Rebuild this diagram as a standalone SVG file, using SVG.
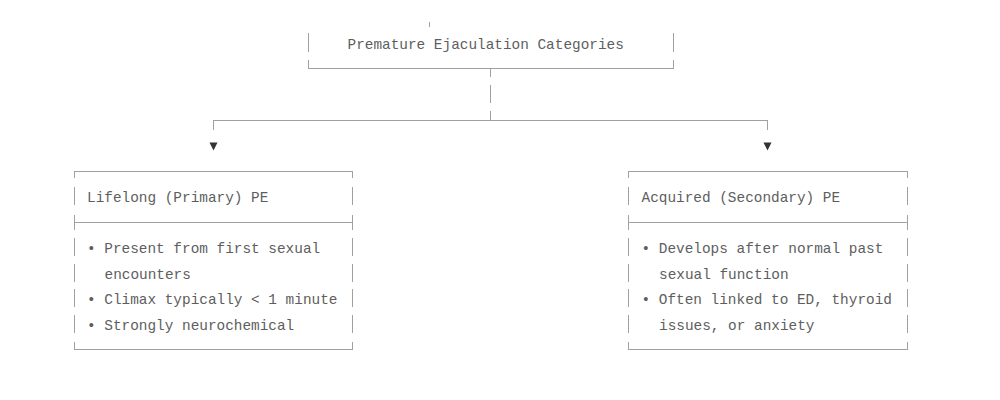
<svg xmlns="http://www.w3.org/2000/svg" width="1000" height="400" viewBox="0 0 1000 400">
  <style>
    .bg { fill: #ffffff; }
    .ln { stroke: #a0a0a0; stroke-width: 1; fill: none; shape-rendering: crispEdges; }
    .tx { font-family: "Liberation Mono", "DejaVu Sans Mono", monospace; font-size: 14.4px; fill: #5e5e5e; }
    .ar { fill: #333333; }
  </style>
  <rect class="bg" x="0" y="0" width="1000" height="400"/>

  <g id="node-top">
    <line class="ln" x1="429.5" y1="22" x2="429.5" y2="27"/>
    <line class="ln" x1="308.5" y1="33" x2="308.5" y2="52"/>
    <line class="ln" x1="673.5" y1="33" x2="673.5" y2="52"/>
    <path class="ln" d="M308.5 60 V68.5 H673.5 V60"/>
    <text class="tx" x="347.5" y="48.5">Premature Ejaculation Categories</text>
  </g>

  <g id="connectors">
    <line class="ln" x1="490.5" y1="68.5" x2="490.5" y2="77"/>
    <line class="ln" x1="490.5" y1="85" x2="490.5" y2="103"/>
    <line class="ln" x1="490.5" y1="111" x2="490.5" y2="121"/>
    <path class="ln" d="M213.5 129.5 V120.5 H767.5 V129.5"/>
    <path class="ar" d="M209.5 142.5 H217.5 L213.5 150.5 Z"/>
    <path class="ar" d="M763.5 142.5 H771.5 L767.5 150.5 Z"/>
  </g>

  <g id="node-lifelong">
    <path class="ln" d="M74.5 178 V171.5 H352.5 V178"/>
    <line class="ln" x1="74.5" y1="187" x2="74.5" y2="205"/>
    <line class="ln" x1="352.5" y1="187" x2="352.5" y2="205"/>
    <line class="ln" x1="74.5" y1="222.5" x2="352.5" y2="222.5"/>
    <line class="ln" x1="74.5" y1="215" x2="74.5" y2="230"/>
    <line class="ln" x1="352.5" y1="215" x2="352.5" y2="230"/>
    <line class="ln" x1="74.5" y1="238" x2="74.5" y2="256"/>
    <line class="ln" x1="352.5" y1="238" x2="352.5" y2="256"/>
    <line class="ln" x1="74.5" y1="264" x2="74.5" y2="282"/>
    <line class="ln" x1="352.5" y1="264" x2="352.5" y2="282"/>
    <line class="ln" x1="74.5" y1="289" x2="74.5" y2="307"/>
    <line class="ln" x1="352.5" y1="289" x2="352.5" y2="307"/>
    <line class="ln" x1="74.5" y1="315" x2="74.5" y2="333"/>
    <line class="ln" x1="352.5" y1="315" x2="352.5" y2="333"/>
    <path class="ln" d="M74.5 341.5 V349.5 H352.5 V341.5"/>
    <text class="tx" x="87" y="202">Lifelong (Primary) PE</text>
    <text class="tx" x="87" y="253">• Present from first sexual</text>
    <text class="tx" x="104.5" y="278.5">encounters</text>
    <text class="tx" x="87" y="304">• Climax typically &lt; 1 minute</text>
    <text class="tx" x="87" y="329.5">• Strongly neurochemical</text>
  </g>

  <g id="node-acquired">
    <path class="ln" d="M628.5 178 V171.5 H907.5 V178"/>
    <line class="ln" x1="628.5" y1="187" x2="628.5" y2="205"/>
    <line class="ln" x1="907.5" y1="187" x2="907.5" y2="205"/>
    <line class="ln" x1="628.5" y1="222.5" x2="907.5" y2="222.5"/>
    <line class="ln" x1="628.5" y1="215" x2="628.5" y2="230"/>
    <line class="ln" x1="907.5" y1="215" x2="907.5" y2="230"/>
    <line class="ln" x1="628.5" y1="238" x2="628.5" y2="256"/>
    <line class="ln" x1="907.5" y1="238" x2="907.5" y2="256"/>
    <line class="ln" x1="628.5" y1="264" x2="628.5" y2="282"/>
    <line class="ln" x1="907.5" y1="264" x2="907.5" y2="282"/>
    <line class="ln" x1="628.5" y1="289" x2="628.5" y2="307"/>
    <line class="ln" x1="907.5" y1="289" x2="907.5" y2="307"/>
    <line class="ln" x1="628.5" y1="315" x2="628.5" y2="333"/>
    <line class="ln" x1="907.5" y1="315" x2="907.5" y2="333"/>
    <path class="ln" d="M628.5 341.5 V349.5 H907.5 V341.5"/>
    <text class="tx" x="641.5" y="202">Acquired (Secondary) PE</text>
    <text class="tx" x="641.5" y="253">• Develops after normal past</text>
    <text class="tx" x="659" y="278.5">sexual function</text>
    <text class="tx" x="641.5" y="304">• Often linked to ED, thyroid</text>
    <text class="tx" x="659" y="329.5">issues, or anxiety</text>
  </g>
</svg>
